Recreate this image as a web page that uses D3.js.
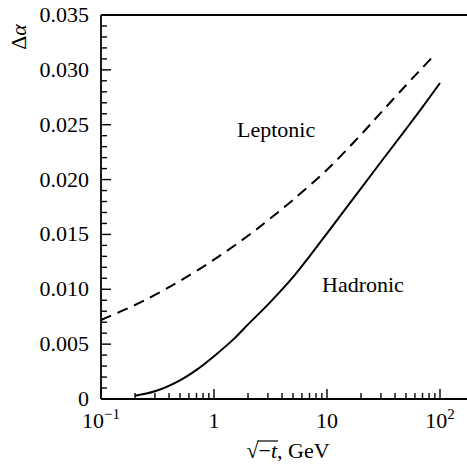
<!DOCTYPE html>
<html>
<head>
<meta charset="utf-8">
<script src="https://cdn.jsdelivr.net/npm/d3@7"></script>
</head>
<body style="margin:0">
<svg id="c" width="467" height="464"></svg>
<script>
// Data
const leptonicX = [0.1,0.2,0.3,0.5,1,2,3,5,10,20,30,50,70,90];
const leptonicY = [0.0072,0.00857,0.00949,0.01076,0.0127,0.01488,0.01628,0.01815,0.0209,0.0241,0.0261,0.0286,0.0302,0.0314];
const hadronicX = [0.2,0.3,0.5,0.7,1,1.5,2,3,5,7,10,20,30,50,70,100];
const hadronicY = [0.0003,0.0007,0.0017,0.00265,0.0039,0.00548,0.0068,0.0086,0.0111,0.0130,0.0151,0.0192,0.0216,0.0246,0.0266,0.0288];
const yTicks = [0,0.005,0.010,0.015,0.020,0.025,0.030,0.035];
const yTickLabels = ["0","0.005","0.010","0.015","0.020","0.025","0.030","0.035"];
const xTicks = [0.1,1,10,100];
const xTickBase = ["10","1","10","10"];
const xTickExp = ["\u22121","","","2"];

const svg = d3.select("#c");
const pL=101, pR=440, pT=15, pB=399, edge=467;
const xs = d3.scaleLog().domain([0.1,100]).range([pL,pR]);
const ys = d3.scaleLinear().domain([0,0.035]).range([pB,pT]);

function txt(sel, size){
  return sel.style("font-family", "\"Times New Roman\"").style("font-size", size + "px");
}

// frame lines
svg.append("line").attr("x1",pL).attr("x2",edge).attr("y1",pT).attr("y2",pT)
  .attr("stroke","#000").attr("stroke-width",1.8);
svg.append("line").attr("x1",pL).attr("x2",edge).attr("y1",pB).attr("y2",pB)
  .attr("stroke","#000").attr("stroke-width",1.8);
svg.append("line").attr("x1",pL).attr("x2",pL).attr("y1",pT).attr("y2",pB)
  .attr("stroke","#000").attr("stroke-width",1.8);

// y ticks (inward)
const yMinor = d3.range(0,36).map(i=>i*0.001);
svg.append("g").selectAll("line").data(yMinor).join("line")
  .attr("x1",pL).attr("x2",d=>pL+((Math.round(d*1000)%5===0)?10:6))
  .attr("y1",d=>ys(d)).attr("y2",d=>ys(d)).attr("stroke","#000").attr("stroke-width",1.4);
txt(svg.append("g").selectAll("text").data(yTicks).join("text"), 22)
  .attr("x",89).attr("y",d=>ys(d)+7).attr("text-anchor","end")
  .text((d,i)=>yTickLabels[i]);

// x ticks (inward)
const xMinor = [];
[0.1,1,10].forEach(b=>{for(let k=1;k<=9;k++) xMinor.push(b*k);});
xMinor.push(100);
svg.append("g").selectAll("line").data(xMinor).join("line")
  .attr("x1",d=>xs(d)).attr("x2",d=>xs(d))
  .attr("y1",pB).attr("y2",d=>pB-(xTicks.some(t=>Math.abs(t-d)<1e-9)?10:6))
  .attr("stroke","#000").attr("stroke-width",1.4);
const xl = txt(svg.append("g").selectAll("text").data(xTicks).join("text"), 22)
  .attr("x",d=>xs(d)).attr("y",428).attr("text-anchor","middle");
xl.each(function(d,i){
  const t=d3.select(this);
  t.append("tspan").text(xTickBase[i]);
  if(xTickExp[i]) t.append("tspan").attr("dy",-9).style("font-size","15px").text(xTickExp[i]);
});

// curves
const line = d3.line().x(d=>xs(d[0])).y(d=>ys(d[1])).curve(d3.curveCatmullRom.alpha(0.5));
svg.append("path").datum(leptonicX.map((v,i)=>[v,leptonicY[i]]))
  .attr("d",line).attr("fill","none").attr("stroke","#000").attr("stroke-width",2)
  .attr("stroke-dasharray","11,7");
svg.append("path").datum(hadronicX.map((v,i)=>[v,hadronicY[i]]))
  .attr("d",line).attr("fill","none").attr("stroke","#000").attr("stroke-width",2);

// labels
txt(svg.append("text"), 22).attr("x",237).attr("y",137).text("Leptonic");
txt(svg.append("text"), 22).attr("x",322).attr("y",292).text("Hadronic");

// y title
const yt = txt(svg.append("text"), 22).attr("transform","translate(26,37) rotate(-90)")
  .attr("text-anchor","middle");
yt.append("tspan").text("\u0394");
yt.append("tspan").style("font-style","italic").text("\u03b1");

// x title: sqrt(-t), GeV
const g = svg.append("g");
const base = 458;
const s1 = txt(g.append("text"), 22).attr("y",base).text("\u221a");
const s2 = txt(g.append("text"), 22).attr("y",base);
s2.append("tspan").text("\u2212");
s2.append("tspan").style("font-style","italic").text("t");
const s3 = txt(g.append("text"), 22).attr("y",base).text(", GeV");
const w1=s1.node().getComputedTextLength(), w2=s2.node().getComputedTextLength(), w3=s3.node().getComputedTextLength();
const x0 = 288 - (w1+w2+w3)/2;
s1.attr("x",x0); s2.attr("x",x0+w1); s3.attr("x",x0+w1+w2);
g.append("line").attr("x1",x0+w1-1).attr("x2",x0+w1+w2+1).attr("y1",base-17).attr("y2",base-17)
  .attr("stroke","#000").attr("stroke-width",1.2);
</script>
</body>
</html>
